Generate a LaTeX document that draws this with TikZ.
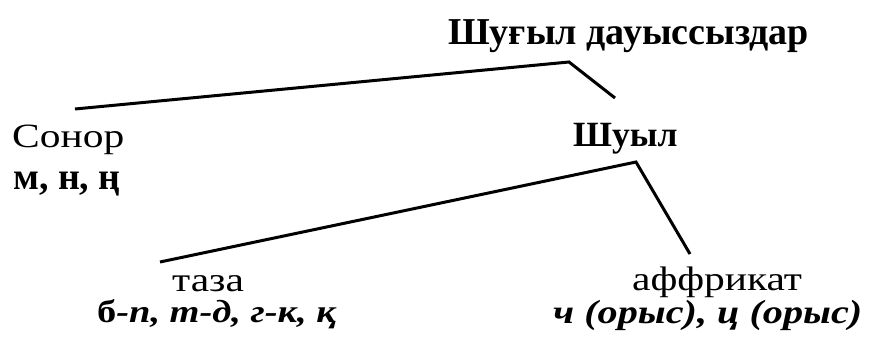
\documentclass[tikz,border=0pt]{standalone}
\usepackage{fontspec}
\setmainfont{Liberation Serif}
\newfontfamily\regf[FakeStretch=1.22]{Liberation Serif}
\newfontfamily\bif[FakeStretch=1.2]{Liberation Serif}
\begin{document}
\begin{tikzpicture}[x=1pt,y=-1pt,
  lbl/.style={inner sep=0pt, anchor=base west},
  big/.style={font=\bfseries\fontsize{38}{38}\selectfont},
  mid/.style={font=\regf\fontsize{34}{34}\selectfont},
  low/.style={font=\regf\fontsize{34}{34}\selectfont},
  lowi/.style={font=\bif\bfseries\itshape\fontsize{33.5}{33.5}\selectfont},
  conn/.style={line width=3pt, line join=miter, line cap=butt}]
\useasboundingbox (0,0) rectangle (870,344);
\node[lbl, big] (root) at (448,45) {Шуғыл дауыссыздар};
\node[lbl, mid] (sonor) at (12,148) {Сонор};
\node[lbl, font=\bfseries\fontsize{38}{38}\selectfont] (sonorex) at (13,190) {м, н, ң};
\node[lbl, font=\bfseries\fontsize{35.5}{35.5}\selectfont] (shuyl) at (573,147) {Шуыл};
\node[lbl, low] (taza) at (172,292) {таза};
\node[lbl, font=\bif\bfseries\itshape\fontsize{32}{32}\selectfont] (tazaex) at (97,323) {{\upshape б}-п, т-д, г-к, қ};
\node[lbl, low] (affr) at (632,291) {аффрикат};
\node[lbl, lowi] (affrex) at (553,324) {ч (орыс), ц (орыс)};
\coordinate (p1) at (569,62);
\coordinate (l1) at (75,109);
\coordinate (r1) at (615,98);
\coordinate (p2) at (636,162);
\coordinate (l2) at (160,262);
\coordinate (r2) at (690,254);
\draw[conn] (l1) -- (p1) -- (r1);
\draw[conn] (l2) -- (p2) -- (r2);
\end{tikzpicture}
\end{document}
